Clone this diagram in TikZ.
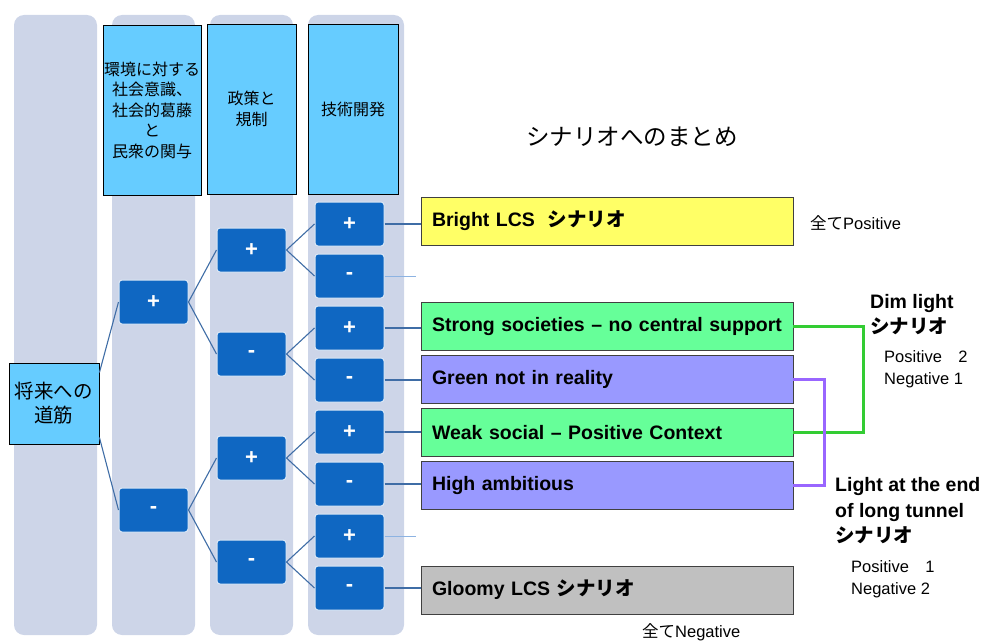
\documentclass[tikz,border=0pt]{standalone}
\usepackage{fontspec}
\setmainfont{Liberation Sans}
\newfontfamily\cjk{Noto Sans CJK JP}
\usetikzlibrary{calc}
\definecolor{colbg}{HTML}{CDD5E8}
\definecolor{hdrblue}{HTML}{66CCFF}
\definecolor{darkblue}{HTML}{0F67C2}
\definecolor{treeline}{HTML}{3F6DA6}
\definecolor{lightline}{HTML}{8DB3E2}
\definecolor{scyellow}{HTML}{FFFF66}
\definecolor{scgreen}{HTML}{66FF99}
\definecolor{scpurple}{HTML}{9999FF}
\definecolor{scgray}{HTML}{C0C0C0}
\definecolor{conngreen}{HTML}{33CC33}
\definecolor{connpurple}{HTML}{9966FF}
\begin{document}
\begin{tikzpicture}[x=1pt,y=-1pt,
  colstrip/.style={fill=colbg, rounded corners=10pt},
  hdrbox/.style={draw=black, line width=0.8pt, fill=hdrblue, minimum height=170pt, align=center, inner sep=0pt, font=\cjk\fontsize{16}{20.5}\selectfont},
  pmbox/.style={draw=white!85!darkblue, line width=1pt, fill=darkblue, rounded corners=3pt, minimum width=69pt, minimum height=44pt, inner sep=0pt, text=white, font=\bfseries\fontsize{22}{22}\selectfont},
  tree/.style={draw=treeline, line width=1.1pt},
  leaf/.style={draw=treeline, line width=1.6pt},
  leaflight/.style={draw=lightline, line width=1pt},
  scbox/.style={draw=black!75, line width=0.8pt, minimum height=48pt, text width=350pt, inner xsep=11pt, align=left, font=\bfseries\fontsize{19.5}{22}\selectfont},
  small/.style={font=\fontsize{16.5}{22}\selectfont, align=left},
  boldlbl/.style={font=\bfseries\fontsize{19.5}{25.5}\selectfont, align=left}
]
\useasboundingbox (0,0) rectangle (986,642);
% column strips
\fill[colstrip] (14,15) rectangle (97,635);
\fill[colstrip] (112,15) rectangle (195,635);
\fill[colstrip] (210,15) rectangle (293,635);
\fill[colstrip] (308,15) rectangle (404,635);

% header boxes
\node[hdrbox, minimum width=98pt] (h1) at (152,110) {環境に対する\\社会意識、\\社会的葛藤\\と\\民衆の関与};
\node[hdrbox, minimum width=89pt] (h2) at (251.5,109) {政策と\\規制};
\node[hdrbox, minimum width=90pt] (h3) at (353,109) {技術開発};

% title
\node[font=\cjk\fontsize{23.5}{23.5}\selectfont] (title) at (632,137) {シナリオへのまとめ};

% root
\node[draw=black, line width=0.8pt, fill=hdrblue, minimum width=90pt, minimum height=81pt, inner sep=0pt, align=center, font=\cjk\fontsize{19.5}{24}\selectfont] (root) at (54,403.5) {将来への\\道筋};

% level 1
\node[pmbox] (a1) at (153.5,302) {+};
\node[pmbox] (a2) at (153.5,510) {-};
% level 2
\node[pmbox] (b1) at (251.5,250) {+};
\node[pmbox] (b2) at (251.5,354) {-};
\node[pmbox] (b3) at (251.5,458) {+};
\node[pmbox] (b4) at (251.5,562) {-};
% level 3
\node[pmbox] (c1) at (349.5,224) {+};
\node[pmbox] (c2) at (349.5,276) {-};
\node[pmbox] (c3) at (349.5,328) {+};
\node[pmbox] (c4) at (349.5,380) {-};
\node[pmbox] (c5) at (349.5,432) {+};
\node[pmbox] (c6) at (349.5,484) {-};
\node[pmbox] (c7) at (349.5,536) {+};
\node[pmbox] (c8) at (349.5,588) {-};

% tree connectors
\draw[tree] ($(root.north east)+(0,10)$) -- (a1.west);
\draw[tree] ($(root.south east)+(0,-7)$) -- (a2.west);
\draw[tree] (a1.east) -- (b1.west);
\draw[tree] (a1.east) -- (b2.west);
\draw[tree] (a2.east) -- (b3.west);
\draw[tree] (a2.east) -- (b4.west);
\draw[tree] (b1.east) -- (c1.west);
\draw[tree] (b1.east) -- (c2.west);
\draw[tree] (b2.east) -- (c3.west);
\draw[tree] (b2.east) -- (c4.west);
\draw[tree] (b3.east) -- (c5.west);
\draw[tree] (b3.east) -- (c6.west);
\draw[tree] (b4.east) -- (c7.west);
\draw[tree] (b4.east) -- (c8.west);

% scenario boxes
\node[scbox, fill=scyellow] (bright) at (607,221) {Bright LCS\ \ {\cjk シナリオ}};
\node[scbox, fill=scgreen] (strong) at (607,326) {Strong societies – no central support};
\node[scbox, fill=scpurple] (gnr) at (607,379.5) {Green not in reality};
\node[scbox, fill=scgreen] (weak) at (607,432.5) {Weak social – Positive Context};
\node[scbox, fill=scpurple] (high) at (607,485) {High ambitious};
\node[scbox, fill=scgray] (gloomy) at (607,590) {Gloomy LCS {\cjk シナリオ}};

% leaf connectors
\coordinate (e2) at (416,276);
\coordinate (e7) at (416,536);
\draw[leaf] (c1.east) -- (c1.east -| bright.west);
\draw[leaflight] (c2.east) -- (e2);
\draw[leaf] (c3.east) -- (c3.east -| strong.west);
\draw[leaf] (c4.east) -- (c4.east -| gnr.west);
\draw[leaf] (c5.east) -- (c5.east -| weak.west);
\draw[leaf] (c6.east) -- (c6.east -| high.west);
\draw[leaflight] (c7.east) -- (e7);
\draw[leaf] (c8.east) -- (c8.east -| gloomy.west);

% grouping connectors
\draw[conngreen, line width=3pt] (strong.east) -- ++(70,0) |- (weak.east);
\draw[connpurple, line width=3pt] (gnr.east) -- ++(31,0) |- (high.east);

% labels
\node[small, anchor=west, inner sep=0pt] (allpos) at (810,223) {{\cjk 全て}Positive};
\node[small, anchor=west, inner sep=0pt] (allneg) at (642,632) {{\cjk 全て}Negative};
\node[boldlbl, anchor=west, inner sep=0pt] (dim) at (870,314.5) {Dim light\\{\cjk シナリオ}};
\node[small, anchor=west, inner sep=0pt] (dimcnt) at (884,369.5) {Positive\hspace{1em}2\\Negative 1};
\node[boldlbl, anchor=west, inner sep=0pt] (tunnel) at (835,511) {Light at the end\\of long tunnel\\{\cjk シナリオ}};
\node[small, anchor=west, inner sep=0pt] (tuncnt) at (851,579) {Positive\hspace{1em}1\\Negative 2};
\end{tikzpicture}
\end{document}
